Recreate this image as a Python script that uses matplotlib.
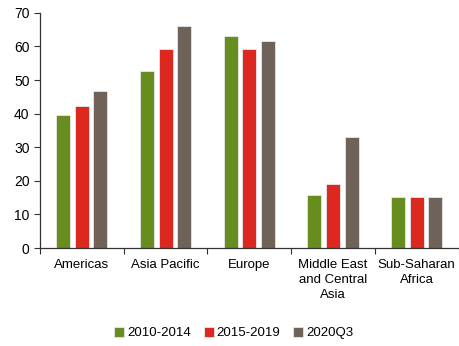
import matplotlib.pyplot as plt
import numpy as np

plt.rcParams['font.family'] = ['Liberation Sans', 'DejaVu Sans']

regions = ['Americas', 'Asia Pacific', 'Europe', 'Middle East\nand Central\nAsia', 'Sub-Saharan\nAfrica']
periods = ['2010-2014', '2015-2019', '2020Q3']
v_2010_2014 = [39.7, 52.8, 63.1, 15.9, 15.3]
v_2015_2019 = [42.4, 59.2, 59.2, 19.1, 15.3]
v_2020q3 = [46.6, 66.0, 61.6, 33.0, 15.3]
colors = ['#678d1f', '#dc281e', '#6f6259']

fig = plt.figure(figsize=(4.6, 3.46), dpi=100)
ax = fig.add_axes([0.087, 0.283, 0.91, 0.68])

x = np.arange(len(regions))
step = 0.222
width = 0.168
for i, (vals, lab, col) in enumerate(zip([v_2010_2014, v_2015_2019, v_2020q3], periods, colors)):
    ax.bar(x + (i - 1) * step, vals, width, color=col, label=lab,
           edgecolor='#e8e8e8', linewidth=0.6)

ax.set_xlim(-0.5, len(regions) - 0.5)
ax.set_ylim(0, 70)
ax.set_yticks(range(0, 71, 10))
# boundary ticks between groups, labels centred under each group
ax.set_xticks(np.arange(len(regions) + 1) - 0.5)
ax.set_xticklabels([])
ax.set_xticks(x, minor=True)
ax.set_xticklabels(regions, minor=True, fontsize=9.5, linespacing=1.35)
ax.tick_params(axis='x', which='minor', length=0, pad=8)
ax.tick_params(axis='x', which='major', length=4, direction='out', color='#333333')
ax.tick_params(axis='y', labelsize=10, length=4, direction='out', color='#333333')
for s in ['top', 'right']:
    ax.spines[s].set_visible(False)
for s in ['left', 'bottom']:
    ax.spines[s].set_color('#333333')
    ax.spines[s].set_linewidth(0.9)

fig.legend(loc='lower center', bbox_to_anchor=(0.508, -0.015), ncol=3, frameon=False,
           fontsize=9.5, handlelength=0.75, handleheight=0.75, handletextpad=0.2,
           columnspacing=1.0)

fig.savefig('out.png', dpi=100)
